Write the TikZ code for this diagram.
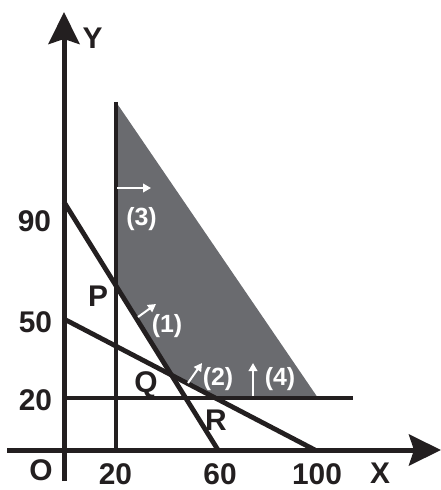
\documentclass[tikz,border=0pt]{standalone}
\usepackage{fontspec}
\setmainfont{Liberation Sans}
\usetikzlibrary{arrows.meta,calc}
\definecolor{ink}{RGB}{35,31,32}
\definecolor{regiongray}{RGB}{106,107,111}
\begin{document}
\begin{tikzpicture}[x=1bp,y=-1bp,
  axis/.style={draw=ink, line width=5bp},
  cline/.style={draw=ink, line width=4.8bp},
  axtip/.style={-{Stealth[length=32bp,width=31bp,inset=5bp]}},
  lbl/.style={font=\bfseries\fontsize{30}{30}\selectfont, text=ink, inner sep=0pt},
  wlbl/.style={font=\bfseries\fontsize{25}{25}\selectfont, text=white, inner sep=0pt},
  warrow/.style={draw=white, line width=2bp, -{Triangle[length=8bp,width=8.5bp]}}]
\useasboundingbox (0,0) rectangle (441,490);
% key points
\coordinate (A1) at (64,202);   % line (1) on Y axis
\coordinate (B1) at (218,450);  % line (1) on X axis
\coordinate (A2) at (64,319);   % line (2) on Y axis
\coordinate (B2) at (315,450);  % line (2) on X axis
\coordinate (A4) at (64,398);   % y = 20 start
\coordinate (B4) at (353,398);  % y = 20 end
\coordinate (T3) at (116,102);  % x = 20 top
\coordinate (F3) at (116,450);  % x = 20 foot
\coordinate (C) at (318,398);   % shaded corner
\coordinate (P) at (intersection of A1--B1 and T3--F3);
\coordinate (Q) at (intersection of A1--B1 and A2--B2);
\coordinate (R) at (intersection of A2--B2 and A4--B4);
% feasible region
\fill[regiongray] (T3) -- (C) -- (R) -- (Q) -- (P) -- cycle;
% constraint lines
\draw[cline] (A1) -- (B1);
\draw[cline] (A2) -- (B2);
\draw[cline] (A4) -- (B4);
\draw[cline] (T3) -- (F3);
% axes
\coordinate (xs) at (7,450);
\coordinate (xe) at (441,450);
\coordinate (ys) at (64,481);
\coordinate (ye) at (64,12);
\draw[axis,axtip] (xs) -- (xe);
\draw[axis,axtip] (ys) -- (ye);
% labels
\node[lbl] (ly) at (92.5,38.5) {Y};
\node[lbl] (lx) at (380,473) {X};
\node[lbl] (l90) at (34.5,221.5) {90};
\node[lbl] (l50) at (35.5,322.5) {50};
\node[lbl] (l20y) at (35.5,400) {20};
\node[lbl] (lo) at (41,470) {O};
\node[lbl] (l20x) at (115.5,474) {20};
\node[lbl] (l60) at (220,474) {60};
\node[lbl] (l100) at (317,474) {100};
\node[lbl] (lp) at (98,296) {P};
\node[lbl] (lq) at (146,385) {Q};
\node[lbl] (lr) at (216,420) {R};
% white direction arrows and labels
\node[wlbl] (w1) at (167,326) {(1)};
\node[wlbl] (w2) at (218,379) {(2)};
\node[wlbl] (w3) at (141.5,219) {(3)};
\node[wlbl] (w4) at (280,379) {(4)};
\coordinate (a1s) at (138,317); \coordinate (a1e) at (156,304);
\coordinate (a2s) at (188,383); \coordinate (a2e) at (202,363);
\coordinate (a3s) at (117,188); \coordinate (a3e) at (151,188);
\coordinate (a4s) at (253,396); \coordinate (a4e) at (253,363);
\draw[warrow] (a1s) -- (a1e);
\draw[warrow] (a2s) -- (a2e);
\draw[warrow] (a3s) -- (a3e);
\draw[warrow] (a4s) -- (a4e);
\end{tikzpicture}
\end{document}
